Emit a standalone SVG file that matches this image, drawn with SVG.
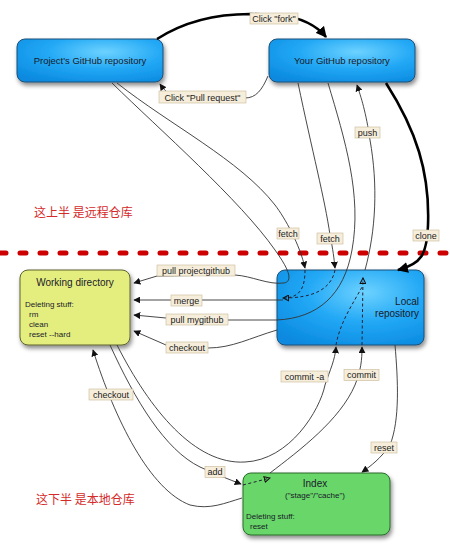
<svg xmlns="http://www.w3.org/2000/svg" width="450" height="555" viewBox="0 0 450 555">
<defs>
  <radialGradient id="gBlue" cx="0.6" cy="0.3" r="0.8">
    <stop offset="0" stop-color="#6dd2ff"/>
    <stop offset="0.5" stop-color="#22a8f5"/>
    <stop offset="1" stop-color="#0a8ae0"/>
  </radialGradient>
  <filter id="sh" x="-10%" y="-10%" width="130%" height="140%">
    <feDropShadow dx="1.5" dy="3" stdDeviation="2" flood-color="#000" flood-opacity="0.45"/>
  </filter>
  <marker id="a" viewBox="0 0 10 10" refX="9" refY="5" markerWidth="7" markerHeight="7" markerUnits="userSpaceOnUse" orient="auto">
    <path d="M0,0 L10,5 L0,10 z" fill="#111"/>
  </marker>
  <marker id="aBig" viewBox="0 0 10 10" refX="9" refY="5" markerWidth="11" markerHeight="11" markerUnits="userSpaceOnUse" orient="auto">
    <path d="M0,0 L10,5 L0,10 z" fill="#000"/>
  </marker>
  <marker id="aOpen" viewBox="0 0 10 10" refX="9" refY="5" markerWidth="7" markerHeight="7" markerUnits="userSpaceOnUse" orient="auto">
    <path d="M1,1 L9,5 L1,9 z" fill="none" stroke="#111" stroke-width="1.5"/>
  </marker>
</defs>
<style>
  .blue { fill: url(#gBlue); stroke: #1d4f78; stroke-width: 1; filter: url(#sh); }
  .wd { fill: #e4ee7e; stroke: #5c6030; stroke-width: 1; filter: url(#sh); }
  .idx { fill: #67d668; stroke: #2c6a2c; stroke-width: 1; filter: url(#sh); }
  .t { font-family: "Liberation Sans", Arial, sans-serif; fill: #1a1a2a; }
  .lb rect { fill: #f6eedb; stroke: #c9b894; stroke-width: 0.6; }
  .lb text { font-family: "Liberation Sans", Arial, sans-serif; font-size: 9px; fill: #222; text-anchor: middle; }
  .c { fill: none; stroke: #333; stroke-width: 0.9; }
  .thick { fill: none; stroke: #000; stroke-width: 2.6; }
  .d { fill: none; stroke: #223; stroke-width: 1; stroke-dasharray: 3 2.5; }
  .zh { font-family: "Noto Sans CJK SC", "Noto Sans", sans-serif; font-size: 12px; fill: #d42a2a; }
</style>

<line x1="0" y1="253" x2="450" y2="253" stroke="#cc0000" stroke-width="5" stroke-linecap="round" stroke-dasharray="6 14"/>

<text class="zh" x="34" y="217">这上半 是远程仓库</text>
<text class="zh" x="36" y="504">这下半 是本地仓库</text>

<g id="node-project">
  <rect class="blue" x="17" y="39" width="146" height="43" rx="8"/>
  <text class="t" x="90" y="63.5" font-size="9.5" text-anchor="middle">Project's GitHub repository</text>
</g>
<g id="node-yours">
  <rect class="blue" x="269" y="39" width="146" height="43" rx="8"/>
  <text class="t" x="342" y="63.5" font-size="9.5" text-anchor="middle">Your GitHub repository</text>
</g>
<g id="node-wd">
  <rect class="wd" x="20" y="270" width="110" height="75" rx="8"/>
  <text class="t" x="75" y="285.5" font-size="10" text-anchor="middle">Working directory</text>
  <text class="t" x="25" y="307" font-size="8">Deleting stuff:</text>
  <text class="t" x="29" y="317" font-size="8">rm</text>
  <text class="t" x="29" y="327" font-size="8">clean</text>
  <text class="t" x="29" y="337" font-size="8">reset --hard</text>
</g>
<g id="node-local">
  <rect class="blue" x="277" y="270" width="147" height="75" rx="8"/>
  <text class="t" x="419" y="305" font-size="10" text-anchor="end">Local</text>
  <text class="t" x="419" y="317" font-size="10" text-anchor="end">repository</text>
</g>
<g id="node-index">
  <rect class="idx" x="243" y="473" width="147" height="62" rx="8"/>
  <text class="t" x="315" y="487" font-size="10" text-anchor="middle">Index</text>
  <text class="t" x="315" y="498" font-size="8" text-anchor="middle">("stage"/"cache")</text>
  <text class="t" x="246" y="519" font-size="8">Deleting stuff:</text>
  <text class="t" x="250" y="529" font-size="8">reset</text>
</g>

<g id="connectors">
  <path class="thick" d="M157,39 C185,21 215,14 250,14 L280,15 C303,18 317,26 326,37" marker-end="url(#aBig)"/>
  <path class="c" d="M268,76 C262,90 256,98 245,98 L175,96 C168,94 164,90 160,84" marker-end="url(#a)"/>
  <path class="c" d="M112,83 C160,130 240,200 275,250 C288,268 294,281 284,283 C268,285 252,276 235,275 L157,276 L134,283" marker-end="url(#a)"/>
  <path class="c" d="M117,83 C170,125 240,160 275,205 C285,218 300,245 305,268" marker-end="url(#a)"/>
  <path class="c" d="M298,83 C312,150 325,200 330,235 C333,250 334,258 335,268" marker-end="url(#a)"/>
  <path class="c" d="M328,83 C345,140 362,195 352,250 C344,295 318,318 277,320 L228,320 L166,318 L134,315" marker-end="url(#a)"/>
  <path class="c" d="M365,270 C376,230 378,185 370,140 C366,112 361,97 357,85" marker-end="url(#a)"/>
  <path class="thick" d="M386,83 C416,130 430,172 428,225 C427,255 421,264 398,270" marker-end="url(#aBig)"/>
  <path class="d" d="M305,270 C305,288 300,297 285,298"/>
  <path class="d" d="M335,270 C331,290 312,298 283,298" marker-end="url(#aOpen)"/>
  <path class="c" d="M283,300 L134,300" marker-end="url(#a)"/>
  <path class="c" d="M277,330 C250,338 232,348 208,348 L166,345 L134,331" marker-end="url(#a)"/>
  <path class="d" d="M362,345 L363,278" marker-end="url(#aOpen)"/>
  <path class="d" d="M336,345 C340,322 354,302 362,287"/>
  <path class="c" d="M117,345 C150,410 195,465 245,462 C290,460 320,410 325,385 C330,370 335,360 336,347" marker-end="url(#a)"/>
  <path class="c" d="M270,473 C300,450 340,420 355,385 C361,370 362,360 362,347" marker-end="url(#a)"/>
  <path class="c" d="M110,345 C135,400 165,450 200,467 C215,474 228,479 241,484" marker-end="url(#a)"/>
  <path class="d" d="M243,485 L270,478" marker-end="url(#aOpen)"/>
  <path class="c" d="M242,498 C225,503 210,510 190,505 C150,490 115,420 93,350" marker-end="url(#a)"/>
  <path class="c" d="M395,345 C398,380 400,420 390,445 C381,458 371,466 362,472" marker-end="url(#a)"/>
</g>

<g id="labels">
  <g class="lb"><rect x="250" y="13" width="48" height="11"/><text x="274" y="21.5">Click "fork"</text></g>
  <g class="lb"><rect x="159" y="91" width="87" height="12"/><text x="202.5" y="100.5">Click "Pull request"</text></g>
  <g class="lb"><rect x="355" y="127" width="25" height="11"/><text x="367.5" y="135.5">push</text></g>
  <g class="lb"><rect x="277" y="228" width="22" height="11"/><text x="288" y="236.5">fetch</text></g>
  <g class="lb"><rect x="317" y="233" width="26" height="11"/><text x="330" y="241.5">fetch</text></g>
  <g class="lb"><rect x="413" y="230" width="26" height="11"/><text x="426" y="238.5">clone</text></g>
  <g class="lb"><rect x="157" y="265" width="78" height="11"/><text x="196" y="273.5">pull projectgithub</text></g>
  <g class="lb"><rect x="171" y="295" width="31" height="11"/><text x="186.5" y="303.5">merge</text></g>
  <g class="lb"><rect x="166" y="314" width="62" height="11"/><text x="197" y="322.5">pull mygithub</text></g>
  <g class="lb"><rect x="166" y="342" width="42" height="11"/><text x="187" y="350.5">checkout</text></g>
  <g class="lb"><rect x="281" y="371" width="47" height="11"/><text x="304.5" y="379.5">commit -a</text></g>
  <g class="lb"><rect x="344" y="369.5" width="35" height="11"/><text x="361.5" y="378">commit</text></g>
  <g class="lb"><rect x="89" y="389" width="44" height="11"/><text x="111" y="397.5">checkout</text></g>
  <g class="lb"><rect x="205" y="466.5" width="20" height="11"/><text x="215" y="475">add</text></g>
  <g class="lb"><rect x="371" y="442" width="26" height="11"/><text x="384" y="450.5">reset</text></g>
</g>
</svg>
